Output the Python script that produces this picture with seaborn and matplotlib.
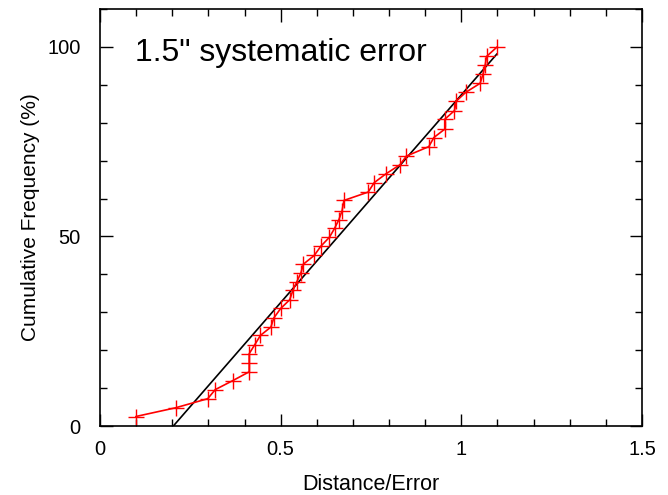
import matplotlib
matplotlib.use("Agg")
import matplotlib.pyplot as plt
import seaborn as sns
import pandas as pd
from matplotlib.ticker import MultipleLocator

sns.set_theme(style="ticks")
plt.rcParams['font.family'] = ['Liberation Sans', 'DejaVu Sans']

distance = [0.099, 0.209, 0.298, 0.319, 0.368, 0.413, 0.413, 0.413, 0.428, 0.444,
            0.473, 0.481, 0.500, 0.525, 0.534, 0.544, 0.556, 0.563, 0.593, 0.611,
            0.635, 0.649, 0.661, 0.670, 0.675, 0.742, 0.759, 0.791, 0.830, 0.848,
            0.910, 0.924, 0.954, 0.954, 0.981, 0.986, 1.012, 1.052, 1.060, 1.066,
            1.070, 1.099]
cumfreq = [2.5, 4.8, 7.2, 9.6, 12.0, 14.3, 16.7, 19.1, 21.4, 23.9,
           26.1, 28.5, 31.0, 33.3, 35.8, 37.9, 40.4, 42.7, 45.0, 47.4,
           49.8, 52.1, 54.4, 56.8, 59.5, 61.7, 64.2, 66.5, 68.9, 71.2,
           73.7, 76.1, 78.3, 80.9, 83.2, 85.7, 88.0, 90.4, 92.8, 95.2,
           97.5, 100.0]
fit_x = [0.203, 1.099]
fit_y = [0.0, 98.2]

df = pd.DataFrame({"d": distance, "c": cumfreq})
fit = pd.DataFrame({"d": fit_x, "c": fit_y})

fig = plt.figure(figsize=(6.68, 4.95), dpi=100)
ax = fig.add_axes([100/668, 1-426/495, (642-100)/668, (426-9)/495])

sns.lineplot(data=fit, x="d", y="c", ax=ax, color="black", linewidth=1.2,
             sort=False, estimator=None)
sns.lineplot(data=df, x="d", y="c", ax=ax, color="red", linewidth=1.2,
             marker="+", markersize=11, markeredgewidth=1.0, markeredgecolor="red",
             sort=False, estimator=None)

ax.set_xlim(0, 1.5)
ax.set_ylim(0, 110)
ax.set_xticks([0, 0.5, 1, 1.5])
ax.set_xticklabels(["0", "0.5", "1", "1.5"])
ax.set_yticks([0, 50, 100])
ax.xaxis.set_minor_locator(MultipleLocator(0.1))
ax.yaxis.set_minor_locator(MultipleLocator(10))
ax.tick_params(which="both", direction="in", top=True, right=True,
               color="black", width=1.0, labelsize=14.5, labelcolor="black")
ax.tick_params(which="major", length=9, pad=10)
ax.tick_params(axis="y", which="major", pad=14)
ax.tick_params(which="minor", length=5)
for s in ax.spines.values():
    s.set_color("black")
    s.set_linewidth(1.2)

ax.set_xlabel("Distance/Error", fontsize=15.5, color="black", labelpad=11)
ax.set_ylabel("Cumulative Frequency (%)", fontsize=15, color="black", labelpad=5)
ax.text(0.065, 0.93, '1.5" systematic error', transform=ax.transAxes,
        fontsize=23, color="black", va="top", ha="left")

fig.savefig("out.png", dpi=100)
